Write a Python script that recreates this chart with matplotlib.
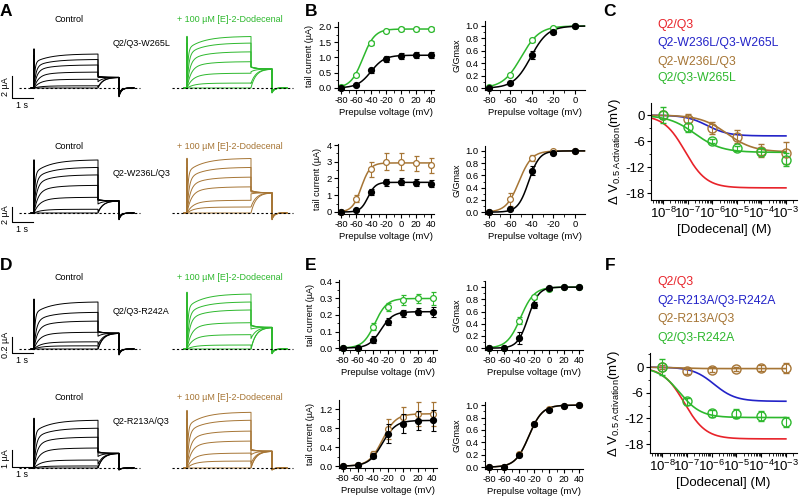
import numpy as np
import matplotlib.pyplot as plt
from matplotlib.ticker import MultipleLocator, LogLocator, NullFormatter

plt.rcParams['font.family'] = ['Liberation Sans', 'DejaVu Sans']
plt.rcParams['mathtext.fontset'] = 'custom'
plt.rcParams['mathtext.rm'] = 'Liberation Sans'
plt.rcParams['mathtext.it'] = 'Liberation Sans:italic'
plt.rcParams['mathtext.default'] = 'regular'
plt.rcParams['axes.unicode_minus'] = False

W, H = 800, 496
GREEN = '#2db82d'
BROWN = '#a67535'
RED = '#e8232a'
BLUE = '#2323c8'
DRUG = '+ 100 \u00b5M [E]-2-Dodecenal'

# ---------------- data ----------------
volts = [-80, -60, -40, -20, 0, 20, 40]
volts_g = [-80, -60, -40, -20, 0]

# B, W265L row
b1_ctrl = [0.0, 0.08, 0.57, 0.95, 1.05, 1.07, 1.07]
b1_ctrl_err = [0.02, 0.03, 0.08, 0.1, 0.1, 0.1, 0.1]
b1_drug = [0.03, 0.42, 1.48, 1.88, 1.92, 1.92, 1.92]
b1_drug_err = [0.02, 0.04, 0.06, 0.06, 0.06, 0.06, 0.06]
b2_ctrl = [0.01, 0.08, 0.53, 0.90, 1.0]
b2_ctrl_err = [0.01, 0.02, 0.06, 0.03, 0.01]
b2_drug = [0.02, 0.21, 0.77, 0.97, 1.0]
b2_drug_err = [0.01, 0.02, 0.03, 0.01, 0.01]
# B, W236L row
b3_ctrl = [0.0, 0.1, 1.2, 1.78, 1.8, 1.75, 1.7]
b3_ctrl_err = [0.02, 0.05, 0.2, 0.2, 0.2, 0.2, 0.2]
b3_drug = [0.0, 0.8, 2.55, 3.0, 3.0, 2.9, 2.8]
b3_drug_err = [0.02, 0.2, 0.45, 0.5, 0.5, 0.45, 0.45]
b4_ctrl = [0.0, 0.05, 0.68, 0.97, 1.0]
b4_ctrl_err = [0.01, 0.02, 0.07, 0.02, 0.01]
b4_drug = [0.0, 0.21, 0.88, 1.0, 1.0]
b4_drug_err = [0.01, 0.11, 0.05, 0.01, 0.01]
# E, R242A row
e1_ctrl = [0.0, 0.0, 0.05, 0.16, 0.21, 0.22, 0.22]
e1_ctrl_err = [0.0, 0.005, 0.02, 0.02, 0.02, 0.02, 0.03]
e1_drug = [0.0, 0.0, 0.13, 0.25, 0.29, 0.30, 0.30]
e1_drug_err = [0.0, 0.005, 0.02, 0.025, 0.03, 0.03, 0.04]
e2_ctrl = [0.0, 0.01, 0.17, 0.70, 0.98, 1.0, 1.0]
e2_ctrl_err = [0.0, 0.01, 0.1, 0.05, 0.02, 0.0, 0.0]
e2_drug = [0.0, 0.01, 0.45, 0.83, 0.97, 1.0, 1.0]
e2_drug_err = [0.0, 0.01, 0.06, 0.03, 0.01, 0.0, 0.0]
# E, R213A row
e3_ctrl = [0.0, 0.02, 0.22, 0.68, 0.89, 0.95, 0.96]
e3_ctrl_err = [0.0, 0.01, 0.05, 0.2, 0.2, 0.2, 0.22]
e3_drug = [0.0, 0.02, 0.26, 0.78, 1.04, 1.09, 1.10]
e3_drug_err = [0.0, 0.01, 0.05, 0.2, 0.2, 0.25, 0.25]
e4_ctrl = [0.0, 0.01, 0.20, 0.69, 0.92, 0.98, 1.0]
e4_drug = [0.0, 0.01, 0.21, 0.70, 0.93, 0.99, 1.0]
e4_err = [0.0, 0.005, 0.02, 0.02, 0.01, 0.01, 0.0]

# Boltzmann fits (V1/2, slope, max)
b1_fit = [(-40, 9, 1.07), (-51, 8, 1.93)]
b2_fit = [(-41, 8, 1.0), (-50, 8.5, 1.0)]
b3_fit = [(-44, 5, 1.77), (-53, 6, 2.93)]
b4_fit = [(-43, 5, 1.0), (-52, 6, 1.0)]
e1_fit = [(-29, 8, 0.22), (-37, 8, 0.30)]
e2_fit = [(-28, 7, 1.0), (-38, 9, 1.0)]
e3_fit = [(-27, 9, 0.96), (-27, 9, 1.10)]
e4_fit = [(-27, 9, 1.0), (-27, 9, 1.0)]

# C / F dose response
conc = [1e-8, 1e-7, 1e-6, 1e-5, 1e-4, 1e-3]
c_brown = [0.0, -0.8, -3.0, -5.0, -8.2, -8.7]
c_brown_err = [1.0, 1.0, 1.3, 1.5, 1.5, 2.5]
c_green = [0.0, -2.8, -6.0, -7.7, -8.4, -10.3]
c_green_err = [1.8, 1.0, 0.5, 0.5, 0.8, 1.5]
f_brown = [0.0, -1.0, -0.6, -0.4, -0.2, -0.2]
f_brown_err = [0.5, 0.6, 0.6, 0.5, 0.6, 1.2]
f_green = [0.0, -8.0, -10.8, -10.9, -11.5, -12.9]
f_green_err = [1.8, 0.8, 0.8, 1.0, 1.2, 1.2]
# Hill fits (bottom, logEC50, slope)
c_fits = {'red': (-16.8, -7.1, 1.0), 'blue': (-4.8, -6.2, 1.0),
          'brown': (-8.5, -5.4, 0.8), 'green': (-8.6, -6.7, 0.8)}
f_fits = {'red': (-16.8, -7.1, 1.0), 'blue': (-8.0, -5.9, 1.0),
          'brown': (-0.35, -7.5, 1.0), 'green': (-11.8, -7.3, 1.0)}
c_legend = ['Q2/Q3', 'Q2-W236L/Q3-W265L', 'Q2-W236L/Q3', 'Q2/Q3-W265L']
f_legend = ['Q2/Q3', 'Q2-R213A/Q3-R242A', 'Q2-R213A/Q3', 'Q2/Q3-R242A']

# current traces: steady levels per sweep (uA)
tr_a1_ctrl = [0, 0.2, 0.8, 1.45, 2.1, 2.6, 3.1]
tr_a1_drug = [0, 0.45, 1.35, 2.4, 3.3, 4.1, 4.7]
tr_a2_ctrl = [0, 0.5, 2.1, 3.7, 5.1, 6.1, 7.1]
tr_a2_drug = [0, 0.8, 1.7, 3.5, 4.8, 6.1, 7.3]
tr_d1_ctrl = [0, 0.04, 0.09, 0.21, 0.35, 0.46, 0.59]
tr_d1_drug = [0, 0.05, 0.18, 0.33, 0.49, 0.59, 0.69]
tr_d2_ctrl = [0, 0.12, 0.47, 1.18, 1.82, 2.35, 2.82]
tr_d2_drug = [0, 0.41, 0.88, 1.59, 2.18, 2.82, 3.29]
# return dip (uA) and onset transient (fraction of max) per row, (control, drug)
dips = [(-0.8, -0.45), (-0.9, -0.9), (-0.075, -0.06), (-0.12, -0.12)]
spikes = [(0.15, 0.0), (0.0, 0.0), (0.06, 0.03), (0.04, 0.03)]

fig = plt.figure(figsize=(8, 4.96), dpi=100)


def px_axes(x0, y0, x1, y1):
    return fig.add_axes([x0 / W, 1 - y1 / H, (x1 - x0) / W, (y1 - y0) / H])


def ftext(x, y, s, **kw):
    fig.text(x / W, 1 - y / H, s, **kw)


def boltz(v, vh, k, a):
    return a / (1 + np.exp((vh - v) / k))


def hill(x, bottom, logec, h):
    return bottom / (1 + 10 ** ((logec - x) * h))


# ---------------- traces (A, D) ----------------
def draw_sweeps(ax, levels, tails, dip, sp, color):
    lmax = max(levels)
    ts = 0.9 * max(tails)
    t_on = np.linspace(0.005, 3.2, 400)
    t_tail = np.linspace(3.2, 4.25, 150)
    t_off = np.linspace(4.25, 5.0, 100)
    for L, T0 in zip(levels, tails):
        frac = L / lmax
        tf = 0.05 + 0.3 * (1 - frac)
        act = L * (1 - 0.75 * np.exp(-t_on / tf) - 0.25 * np.exp(-t_on / 0.8))
        spike = L * (1 + sp)
        tail = ts + (T0 - ts) * np.exp(-(t_tail - 3.2) / 0.25)
        off = dip * (0.6 + 0.4 * frac) * np.exp(-(t_off - 4.25) / 0.12)
        t = np.concatenate([[-0.15, 0, 0], t_on, t_tail, t_off])
        y = np.concatenate([[0, 0, spike], act, tail, off])
        ax.plot(t, y, color=color, lw=0.7, clip_on=False)
    ax.plot([-0.75, 5.3], [0, 0], ls=(0, (2, 2)), color='black', lw=0.8, zorder=5)


rows = [
    (88, 11.0, 2, '2 \u00b5A', 98, tr_a1_ctrl, tr_a1_drug, (b1_ctrl, b1_drug), GREEN, 'Q2/Q3-W265L', 20, 44),
    (213, 7.5, 2, '2 \u00b5A', 222, tr_a2_ctrl, tr_a2_drug, (b3_ctrl, b3_drug), BROWN, 'Q2-W236L/Q3', 146, 173),
    (349, 80.0, 0.2, '0.2 \u00b5A', 353, tr_d1_ctrl, tr_d1_drug, (e1_ctrl, e1_drug), GREEN, 'Q2/Q3-R242A', 277, 312),
    (468, 17.0, 1, '1 \u00b5A', 467, tr_d2_ctrl, tr_d2_drug, (e3_ctrl, e3_drug), BROWN, 'Q2-R213A/Q3', 397, 422),
]

for (b, p, sv, sl, bar_px, lc, ld, (tc, td), col, name, ty, ny), (dc, dd), (sc, sd) in zip(rows, dips, spikes):
    for x0, lev, tl, c, dp, sp in [(0, lc, tc, 'black', dc, sc), (153, ld, td, col, dd, sd)]:
        ax = px_axes(x0, b - 75, x0 + 150, b + 22)
        ax.set_xlim(-1.7, 5.8)
        ax.set_ylim(-22 / p, 75 / p)
        ax.axis('off')
        draw_sweeps(ax, lev, tl, dp, sp, c)
        if x0 == 0:
            y0 = (b - bar_px) / p
            ax.plot([-1.1, -1.1, -0.05], [y0 + sv, y0, y0], color='black', lw=0.8, clip_on=False)
            ax.text(-1.42, y0 + sv / 2, sl, rotation=90, ha='center', va='center', fontsize=6.5)
            ax.annotate('1 s', xy=(-0.58, y0), xytext=(0, -2), textcoords='offset points',
                        ha='center', va='top', fontsize=6.5)
    ftext(69, ty, 'Control', ha='center', va='center', fontsize=6.5)
    ftext(177, ty, DRUG, ha='left', va='center', fontsize=6.5, color=col)
    ftext(113, ny, name, ha='left', va='center', fontsize=6.5)


# ---------------- I-V and G-V (B, E) ----------------
def style(ax, xlim, ylim, xmaj, ymaj, ymin, ylabel):
    ax.set_xlim(*xlim)
    ax.set_ylim(*ylim)
    for s in ['top', 'right']:
        ax.spines[s].set_visible(False)
    for s in ['left', 'bottom']:
        ax.spines[s].set_linewidth(0.8)
    ax.xaxis.set_major_locator(MultipleLocator(xmaj))
    ax.xaxis.set_minor_locator(MultipleLocator(10))
    ax.yaxis.set_major_locator(MultipleLocator(ymaj))
    ax.yaxis.set_minor_locator(MultipleLocator(ymin))
    ax.tick_params(which='major', length=3, width=0.8, labelsize=6.8, pad=1.5)
    ax.tick_params(which='minor', length=1.8, width=0.6)
    ax.set_xlabel('Prepulse voltage (mV)', fontsize=6.8, labelpad=2)
    ax.set_ylabel(ylabel, fontsize=6.5, labelpad=3)


def iv_plot(ax, xs, ctrl, ctrl_err, drug, drug_err, fits, color, vmax):
    vv = np.linspace(-80, vmax, 200)
    ax.plot(vv, boltz(vv, *fits[1]), color=color, lw=1.1, clip_on=False)
    ax.errorbar(xs, drug, yerr=drug_err, fmt='o', ms=4.2, mfc='white', mec=color, mew=0.9,
                ecolor=color, elinewidth=0.8, capsize=1.8, capthick=0.8, clip_on=False)
    ax.plot(vv, boltz(vv, *fits[0]), color='black', lw=1.1, clip_on=False)
    ax.errorbar(xs, ctrl, yerr=ctrl_err, fmt='o', ms=4.2, mfc='black', mec='black',
                ecolor='black', elinewidth=0.8, capsize=1.8, capthick=0.8, clip_on=False, zorder=4)


ul = 'tail current (\u00b5A)'
ax = px_axes(338, 22, 434, 90)
style(ax, (-84, 44), (-0.07, 2.16), 20, 0.5, 0.25, ul)
iv_plot(ax, volts, b1_ctrl, b1_ctrl_err, b1_drug, b1_drug_err, b1_fit, GREEN, 40)

ax = px_axes(485, 21, 585, 90)
style(ax, (-83.7, 9.5), (-0.03, 1.08), 20, 0.2, 0.1, 'G/Gmax')
iv_plot(ax, volts_g, b2_ctrl, b2_ctrl_err, b2_drug, b2_drug_err, b2_fit, GREEN, 9)

ax = px_axes(338, 144, 434, 214)
style(ax, (-84, 44), (-0.12, 4.06), 20, 1, 0.5, ul)
iv_plot(ax, volts, b3_ctrl, b3_ctrl_err, b3_drug, b3_drug_err, b3_fit, BROWN, 40)

ax = px_axes(485, 146, 585, 214)
style(ax, (-83.7, 9.5), (-0.03, 1.08), 20, 0.2, 0.1, 'G/Gmax')
iv_plot(ax, volts_g, b4_ctrl, b4_ctrl_err, b4_drug, b4_drug_err, b4_fit, BROWN, 9)

ax = px_axes(339, 280, 437, 350)
style(ax, (-85, 46), (-0.012, 0.412), 20, 0.1, 0.05, ul)
iv_plot(ax, volts, e1_ctrl, e1_ctrl_err, e1_drug, e1_drug_err, e1_fit, GREEN, 40)

ax = px_axes(485, 281, 583, 350)
style(ax, (-85.3, 45), (-0.03, 1.1), 20, 0.2, 0.1, 'G/Gmax')
iv_plot(ax, volts, e2_ctrl, e2_ctrl_err, e2_drug, e2_drug_err, e2_fit, GREEN, 40)

ax = px_axes(339, 400, 437, 468)
style(ax, (-85, 46), (-0.04, 1.39), 20, 0.4, 0.2, ul)
iv_plot(ax, volts, e3_ctrl, e3_ctrl_err, e3_drug, e3_drug_err, e3_fit, BROWN, 40)

ax = px_axes(485, 402, 583, 469)
style(ax, (-85.3, 45), (-0.03, 1.05), 20, 0.2, 0.1, 'G/Gmax')
iv_plot(ax, volts, e4_ctrl, e4_err, e4_drug, e4_err, e4_fit, BROWN, 40)


# ---------------- dose response (C, F) ----------------
def dose_plot(box, ylim, fits, brown, brown_err, green, green_err, names, leg_y):
    ax = px_axes(*box)
    ax.set_xscale('log')
    ax.set_xlim(10 ** -8.49, 10 ** -2.55)
    ax.set_ylim(*ylim)
    for s in ['top', 'right']:
        ax.spines[s].set_visible(False)
    ax.xaxis.set_major_locator(LogLocator(base=10, numticks=20))
    ax.xaxis.set_minor_locator(LogLocator(base=10, subs=np.arange(2, 10), numticks=20))
    ax.xaxis.set_minor_formatter(NullFormatter())
    ax.set_xticks([1e-8, 1e-7, 1e-6, 1e-5, 1e-4, 1e-3])
    ax.yaxis.set_major_locator(MultipleLocator(6))
    ax.yaxis.set_minor_locator(MultipleLocator(3))
    ax.tick_params(which='major', length=3, width=0.8, labelsize=9.5, pad=1.5)
    ax.tick_params(which='minor', length=1.8, width=0.6)
    xx = np.linspace(-8.49, -3, 300)
    for key, c in [('red', RED), ('blue', BLUE), ('brown', BROWN), ('green', GREEN)]:
        ax.plot(10 ** xx, hill(xx, *fits[key]), color=c, lw=1.2)
    ax.errorbar(conc, brown, yerr=brown_err, fmt='o', ms=6.5, mfc='none', mec=BROWN, mew=1.0,
                ecolor=BROWN, elinewidth=0.8, capsize=2, capthick=0.8, clip_on=False)
    ax.errorbar(conc, green, yerr=green_err, fmt='o', ms=6.5, mfc='none', mec=GREEN, mew=1.0,
                ecolor=GREEN, elinewidth=0.8, capsize=2, capthick=0.8, clip_on=False)
    ax.set_xlabel('[Dodecenal] (M)', fontsize=9.5, labelpad=2)
    ax.set_ylabel(r'$\Delta$ V$_{\mathrm{0.5\ Activation}}$(mV)', fontsize=9.5, labelpad=2)
    for nm, c, y in zip(names, [RED, BLUE, BROWN, GREEN], leg_y):
        ftext(657, y, nm, color=c, fontsize=8.8, ha='left', va='center')


dose_plot((651, 103, 797, 200), (-19.6, 2.8), c_fits, c_brown, c_brown_err,
          c_green, c_green_err, c_legend, [25, 43, 62, 78])
dose_plot((650, 353, 797, 453), (-20.1, 3.3), f_fits, f_brown, f_brown_err,
          f_green, f_green_err, f_legend, [282, 301, 319, 338])

# panel letters
for lab, x, y in [('A', 0, 12), ('B', 305, 12), ('C', 603, 12),
                  ('D', 0, 265), ('E', 305, 265), ('F', 605, 265)]:
    ftext(x, y, lab, fontsize=12.5, fontweight='bold', ha='left', va='center')

fig.savefig('out.png', dpi=100)
